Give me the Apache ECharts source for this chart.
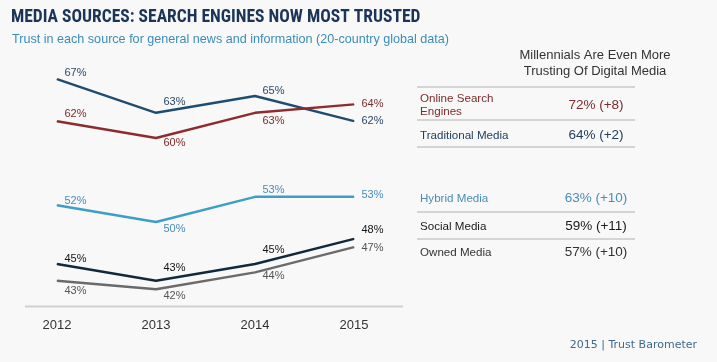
<!DOCTYPE html>
<html>
<head>
<meta charset="utf-8">
<script src="https://cdn.jsdelivr.net/npm/echarts@6/dist/echarts.min.js"></script>
<style>
html,body{margin:0;padding:0;background:#f8f8f8;}
#chart{width:717px;height:362px;}
</style>
</head>
<body>
<div id="chart"></div>
<script>
// ---- data ----
const years = ['2012', '2013', '2014', '2015'];
const traditionalMedia = [67, 63, 65, 62];
const searchEngines = [62, 60, 63, 64];
const hybridMedia = [52, 50, 53, 53];
const socialMedia = [45, 43, 45, 48];
const ownedMedia = [43, 42, 44, 47];

const millennialNames = ['Online Search\nEngines', 'Traditional Media', 'Hybrid Media', 'Social Media', 'Owned Media'];
const millennialValues = ['72% (+8)', '64% (+2)', '63% (+10)', '59% (+11)', '57% (+10)'];

const titleText = 'MEDIA SOURCES: SEARCH ENGINES NOW MOST TRUSTED';
const subtitleText = 'Trust in each source for general news and information (20-country global data)';
const panelTitle = 'Millennials Are Even More\nTrusting Of Digital Media';
const footerText = '2015 | Trust Barometer';

// ---- styles ----
const FONT = "'Liberation Sans', Arial, Helvetica, sans-serif";
const seriesStyles = [
  {name: 'Traditional Media', data: traditionalMedia, line: '#1f4d70', label: '#2b4966', dy: [-6, -11, -5, 0]},
  {name: 'Online Search Engines', data: searchEngines, line: '#8c2c2f', label: '#7a2b2b', dy: [-7, 5, 8, 0]},
  {name: 'Hybrid Media', data: hybridMedia, line: '#3d9fc5', label: '#4a8db5', dy: [-4, 7, -7, -2]},
  {name: 'Social Media', data: socialMedia, line: '#10293d', label: '#151515', dy: [-5, -13, -14, -9]},
  {name: 'Owned Media', data: ownedMedia, line: '#6a6a6a', label: '#555555', dy: [10, 7, 4, 1]}
];
const rowColors = ['#7d2a2a', '#22405e', '#4a8db5', '#1a1a1a', '#333333'];
const rowY = [105.5, 135.5, 199, 226.5, 253];
const sepY = [87, 120, 147, 212, 239];

const chart = echarts.init(document.getElementById('chart'), null, {renderer: 'canvas'});

const series = seriesStyles.map(s => ({
  name: s.name,
  type: 'line',
  data: s.data.map((v, i) => ({
    value: v,
    label: {offset: [0, s.dy[i]]}
  })),
  symbol: 'circle',
  symbolSize: 1,
  showSymbol: true,
  itemStyle: {color: s.line},
  lineStyle: {color: s.line, width: 2.4},
  label: {
    show: true,
    position: 'right',
    distance: 7,
    formatter: '{c}%',
    color: s.label,
    fontSize: 11,
    fontFamily: FONT
  },
  emphasis: {disabled: true},
  animation: false
}));

const graphics = [];
// separator under chart
graphics.push({type: 'line', shape: {x1: 25, y1: 306.5, x2: 403, y2: 306.5}, style: {stroke: '#cfcfcf', lineWidth: 2}, silent: true});
// panel title
graphics.push({type: 'text', style: {text: panelTitle, x: 595, y: 63, align: 'center', verticalAlign: 'middle', fill: '#333333', font: '13px ' + FONT, lineHeight: 16}});
sepY.forEach(y => graphics.push({type: 'line', shape: {x1: 417, y1: y, x2: 635, y2: y}, style: {stroke: '#d4d4d4', lineWidth: 2}, silent: true}));
millennialNames.forEach((n, i) => {
  graphics.push({type: 'text', style: {text: n, x: 420, y: rowY[i], align: 'left', verticalAlign: 'middle', fill: rowColors[i], font: '11.6px ' + FONT, lineHeight: 13}});
  graphics.push({type: 'text', style: {text: millennialValues[i], x: 596, y: rowY[i] - 0.5, align: 'center', verticalAlign: 'middle', fill: rowColors[i], font: '13.5px ' + FONT}});
});
graphics.push({type: 'text', style: {text: footerText, x: 697, y: 345, align: 'right', verticalAlign: 'middle', fill: '#3f6a8c', font: "11px 'DejaVu Sans', sans-serif"}});

chart.setOption({
  backgroundColor: '#f8f8f8',
  animation: false,
  title: [
    {text: titleText, left: 6, top: 4, textStyle: {color: '#1b3558', fontSize: 17.5, fontWeight: 'bold', fontFamily: "'Liberation Sans Narrow', 'Roboto Condensed', Roboto, sans-serif"}},
    {text: subtitleText, left: 7, top: 28, textStyle: {color: '#3b8cba', fontSize: 12.6, fontWeight: 'normal', fontFamily: FONT}}
  ],
  grid: {left: 57, right: 363, top: 54, bottom: 56, containLabel: false},
  xAxis: {
    type: 'category',
    data: years,
    boundaryGap: false,
    axisLine: {show: false},
    axisTick: {show: false},
    axisLabel: {color: '#333333', fontSize: 13, fontFamily: FONT, margin: 13}
  },
  yAxis: {
    type: 'value',
    min: 40,
    max: 70,
    show: false,
    splitLine: {show: false}
  },
  series: series,
  graphic: graphics
});
</script>
</body>
</html>
